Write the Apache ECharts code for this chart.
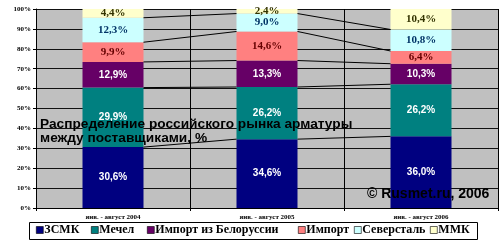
<!DOCTYPE html>
<html><head><meta charset="utf-8">
<script src="https://cdn.jsdelivr.net/npm/echarts@6/dist/echarts.min.js"></script>
<style>html,body{margin:0;padding:0;background:#fff}#c{width:500px;height:245px}</style>
</head><body><div id="c"></div>
<script>
const categories = ['янв. - август 2004', 'янв. - август 2005', 'янв. - август 2006'];
const seriesNames = ['ЗСМК', 'Мечел', 'Импорт из Белоруссии', 'Импорт', 'Северсталь', 'ММК'];
const zsmk = [30.6, 34.6, 36.0];
const mechel = [29.9, 26.2, 26.2];
const belarus = [12.9, 13.3, 10.3];
const importV = [9.9, 14.6, 6.4];
const severstal = [12.3, 9.0, 10.8];
const mmk = [4.4, 2.4, 10.4];
const yTicks = [0, 10, 20, 30, 40, 50, 60, 70, 80, 90, 100];

const allValues = [zsmk, mechel, belarus, importV, severstal, mmk];
const colors = ['#000080', '#008080', '#660066', '#FF8080', '#CCFFFF', '#FFFFCC'];
const labelColors = ['#fff', '#fff', '#fff', '#660000', '#003366', '#333300'];
const legendLefts = [36, 91, 147, 298, 354, 430];
const BAR_W = 61;

const cum = categories.map((c, i) => {
  let s = 0; const arr = [];
  for (let k = 0; k < allValues.length - 1; k++) { s += allValues[k][i]; arr.push(s); }
  return arr;
});

const chart = echarts.init(document.getElementById('c'), null, {renderer: 'canvas'});
const series = seriesNames.map((n, k) => ({
  name: n, type: 'bar', stack: 'a', barWidth: BAR_W,
  data: allValues[k],
  itemStyle: {color: colors[k]},
  label: {
    show: true, position: 'inside',
    formatter: p => p.value.toFixed(1).replace('.', ',') + '%',
    color: labelColors[k],
    fontFamily: k < 3 ? 'Liberation Sans' : 'Liberation Serif',
    fontWeight: 'bold', fontSize: k < 3 ? 10 : 11
  },
  z: 3
}));
series.push({
  type: 'custom', name: 'lines', data: [0, 1], z: 4, silent: true,
  renderItem: (params, api) => {
    const i = api.value(0);
    const children = cum[i].map((v, j) => {
      const p1 = api.coord([i, v]);
      const p2 = api.coord([i + 1, cum[i + 1][j]]);
      return {type: 'line', shape: {x1: p1[0] + BAR_W / 2, y1: p1[1], x2: p2[0] - BAR_W / 2, y2: p2[1]},
        style: {stroke: '#000', lineWidth: 1}};
    });
    return {type: 'group', children};
  },
  encode: {x: 0}
});

const legends = seriesNames.map((n, k) => ({
  data: [n], left: legendLefts[k], top: 224, padding: 0,
  itemWidth: 7, itemHeight: 7, icon: 'rect', z: 10,
  itemStyle: {borderColor: '#000', borderWidth: 0.6},
  textStyle: {fontFamily: 'Liberation Serif', fontWeight: 'bold', fontSize: 12, color: '#000', padding: [0, 0, 0, -4]}
}));

chart.setOption({
  animation: false,
  backgroundColor: '#fff',
  grid: {left: 36, right: 2, top: 9, bottom: 37, show: true, backgroundColor: '#C0C0C0', borderWidth: 0},
  xAxis: {
    type: 'category', data: categories,
    axisLine: {lineStyle: {color: '#000'}},
    axisTick: {show: true, length: 3, lineStyle: {color: '#000'}},
    splitLine: {show: true, lineStyle: {color: '#000', width: 1}},
    axisLabel: {fontFamily: 'Liberation Serif', fontWeight: 'bold', fontSize: 7, color: '#000', margin: 6}
  },
  yAxis: {
    type: 'value', min: yTicks[0], max: yTicks[yTicks.length - 1], interval: 10,
    axisLine: {show: true, lineStyle: {color: '#000'}},
    axisTick: {show: true, length: 3, lineStyle: {color: '#000'}},
    splitLine: {lineStyle: {color: '#111', width: 1}},
    axisLabel: {formatter: '{value}%', fontFamily: 'Liberation Serif', fontWeight: 'bold', fontSize: 7, color: '#000', margin: 5}
  },
  legend: legends,
  graphic: [
    {type: 'rect', left: 29, top: 222, z: 5, shape: {width: 448, height: 17}, style: {fill: '#fff', stroke: '#000', lineWidth: 1}},
    {type: 'text', left: 40, top: 117, z: 100, style: {text: 'Распределение российского рынка арматуры\nмежду поставщиками, %', font: 'bold 13.7px "Liberation Sans"', fill: '#000', lineHeight: 14}},
    {type: 'text', left: 367, top: 187, z: 100, style: {text: '© Rusmet.ru, 2006', font: 'bold 14px "Liberation Sans"', fill: '#000'}}
  ],
  series
});
</script></body></html>
